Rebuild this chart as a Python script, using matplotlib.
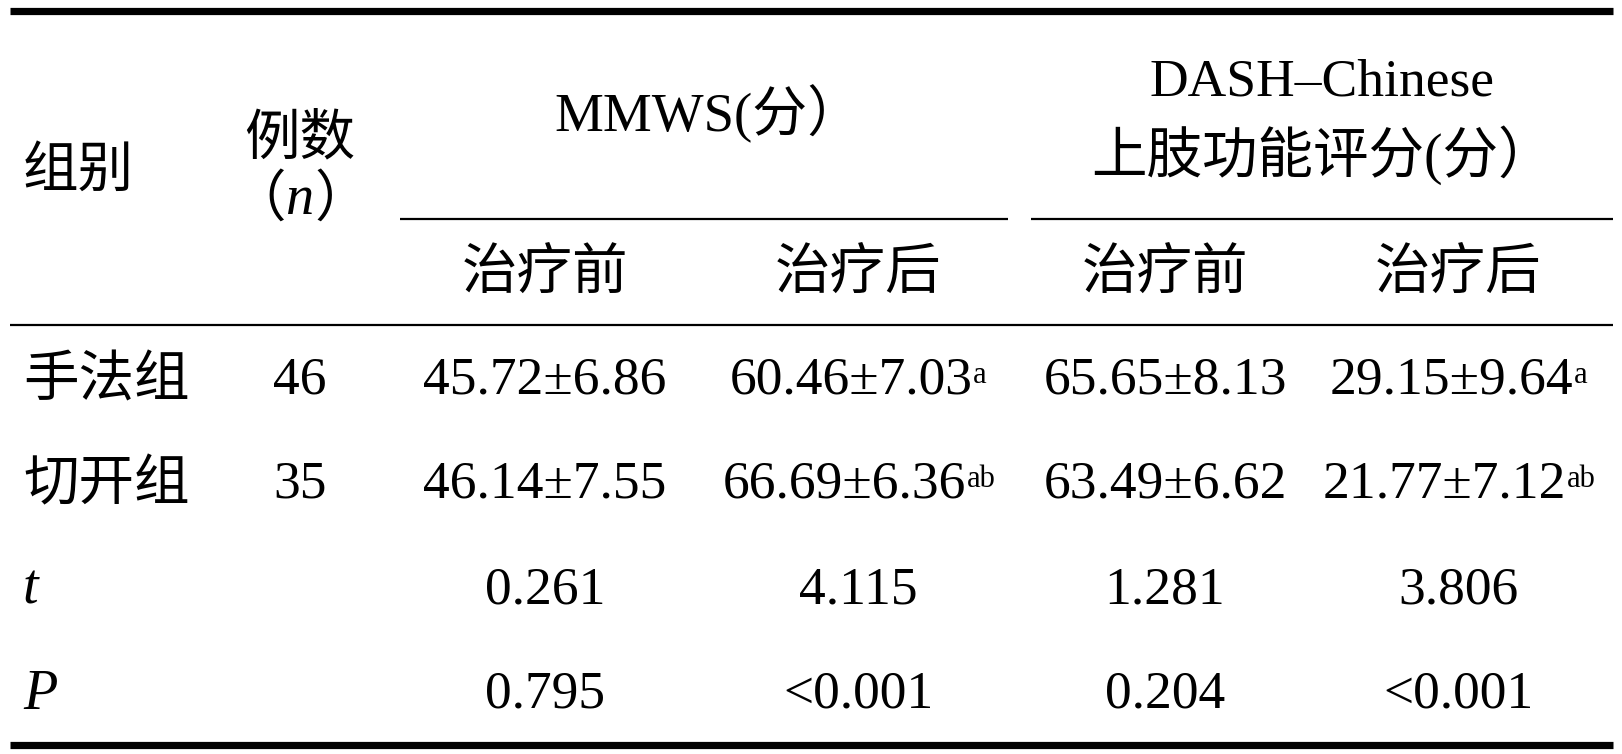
import matplotlib
matplotlib.use('Agg')
import matplotlib.pyplot as plt

# ---- data ----
group_col_header = '组别'
count_col_header = '例数'
measure_headers = ['MMWS(分）', 'DASH–Chinese']
measure_subtitle = '上肢功能评分(分）'
time_headers = ['治疗前', '治疗后', '治疗前', '治疗后']
groups = ['手法组', '切开组']
counts = ['46', '35']
mmws_before = ['45.72±6.86', '46.14±7.55']
mmws_after = ['60.46±7.03', '66.69±6.36']
mmws_after_sup = ['a', 'ab']
dash_before = ['65.65±8.13', '63.49±6.62']
dash_after = ['29.15±9.64', '21.77±7.12']
dash_after_sup = ['a', 'ab']
stat_labels = ['t', 'P']
t_values = ['0.261', '4.115', '1.281', '3.806']
p_values = ['0.795', '<0.001', '0.204', '<0.001']

# ---- layout ----
W, H = 1622, 754
fig = plt.figure(figsize=(W / 100, H / 100), dpi=100)
ax = fig.add_axes([0, 0, 1, 1])
ax.set_xlim(0, W)
ax.set_ylim(H, 0)
ax.axis('off')

CJK = ['Noto Sans CJK SC', 'DejaVu Sans']
SERIF = ['Liberation Serif', 'Noto Sans CJK SC', 'DejaVu Sans']
FS_CJK = 40
FS_NUM = 38.5
FS_SUP = 22

x_left = 10
x_right = 1613
x_label = 23
x_count = 300
col_x = [545, 858, 1165, 1458]
row_y = [381, 485, 590, 695]

# rules
ax.plot([x_left, x_right], [11, 11], color='black', lw=5.2, solid_capstyle='butt')
ax.plot([x_left, x_right], [745, 745], color='black', lw=5.2, solid_capstyle='butt')
ax.plot([x_left, x_right], [325, 325], color='black', lw=1.6, solid_capstyle='butt')
ax.plot([400, 1008], [219, 219], color='black', lw=1.6, solid_capstyle='butt')
ax.plot([1031, x_right], [219, 219], color='black', lw=1.6, solid_capstyle='butt')

# header
ax.text(x_label, 171, group_col_header, family=CJK, fontsize=FS_CJK, ha='left', va='center')
ax.text(x_count, 139, count_col_header, family=CJK, fontsize=FS_CJK, ha='center', va='center')
ax.text(x_count - 14, 200, '（', family=CJK, fontsize=FS_CJK, ha='right', va='center')
ax.text(x_count, 200, 'n', family=SERIF, style='italic', fontsize=FS_NUM + 2, ha='center', va='center')
ax.text(x_count + 14, 200, '）', family=CJK, fontsize=FS_CJK, ha='left', va='center')

ax.text((400 + 1008) / 2 + 4, 114, measure_headers[0], family=SERIF, fontsize=FS_NUM + 1, ha='center', va='center')
ax.text((1031 + x_right) / 2, 82, measure_headers[1], family=SERIF, fontsize=FS_NUM, ha='center', va='center')
ax.text((1031 + x_right) / 2, 155, measure_subtitle, family=SERIF, fontsize=FS_CJK, ha='center', va='center')

for x, lab in zip(col_x, time_headers):
    ax.text(x, 273, lab, family=CJK, fontsize=FS_CJK, ha='center', va='center')

# body rows
cols_main = [mmws_before, mmws_after, dash_before, dash_after]
cols_sup = [None, mmws_after_sup, None, dash_after_sup]
for i, g in enumerate(groups):
    y = row_y[i]
    ax.text(x_label, y, g, family=CJK, fontsize=FS_CJK, ha='left', va='center')
    ax.text(x_count, y, counts[i], family=SERIF, fontsize=FS_NUM, ha='center', va='center')
    for j, x in enumerate(col_x):
        sup = cols_sup[j][i] if cols_sup[j] is not None else ''
        shift = -7 * len(sup)
        t = ax.text(x + shift, y, cols_main[j][i], family=SERIF, fontsize=FS_NUM,
                    ha='center', va='center')
        if sup:
            ax.annotate(sup, xy=(1, 1), xycoords=t, xytext=(0.5, -3), textcoords='offset points',
                        family=SERIF, fontsize=FS_SUP, ha='left', va='top')

for k, (lab, vals) in enumerate(zip(stat_labels, [t_values, p_values])):
    y = row_y[2 + k]
    ax.text(x_label, y, lab, family=SERIF, style='italic', fontsize=FS_NUM + 2, ha='left', va='center')
    for x, v in zip(col_x, vals):
        ax.text(x, y, v, family=SERIF, fontsize=FS_NUM, ha='center', va='center')

fig.savefig('out.png', dpi=100, facecolor='white')
